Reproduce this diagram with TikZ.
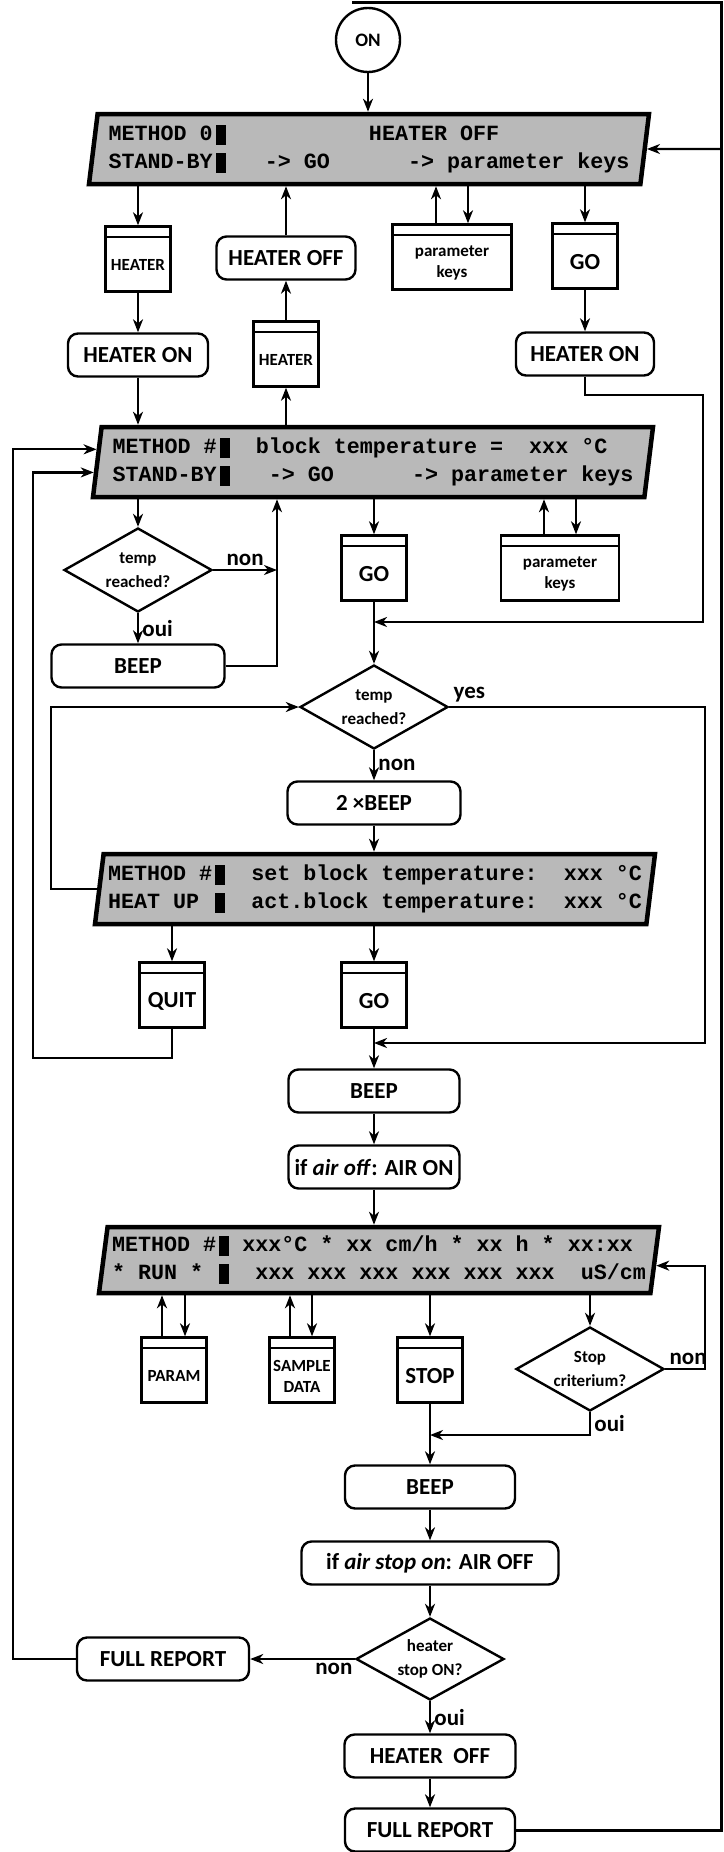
\documentclass[tikz,border=0pt]{standalone}
\usepackage{fontspec}
\setmainfont{Carlito}
\newfontfamily\lcdfont{Liberation Mono}
\usetikzlibrary{shapes.geometric, positioning, arrows.meta, calc}
\newcommand{\blk}{\makebox[0.6em][r]{\rule[-0.2em]{0.45em}{0.95em}}} % cursor block of the display
\newcommand{\low}[1]{\raisebox{-6pt}[\height][\depth]{#1}} % text below the key header
\tikzset{
	x=1pt, y=-1pt, % one unit is one pixel of the scan, y runs downwards
	->, % makes the connectors directed
	>={Stealth[length=13pt, width=10pt, inset=4pt]}, % arrow heads
	act/.style={draw, rounded corners=10pt, line width=2.4pt, minimum height=43pt, inner xsep=3pt, font=\bfseries\fontsize{23}{26}\selectfont}, % actions
	keybox/.style={draw, line width=2.4pt, minimum width=65pt, minimum height=65pt, inner sep=1pt, align=center, font=\bfseries\fontsize{17}{21}\selectfont,
		path picture={\draw[-, line width=2pt] ([yshift=-10pt]path picture bounding box.north west) -- ([yshift=-10pt]path picture bounding box.north east);}}, % keys, with a header strip
	bigkey/.style={keybox, font=\bfseries\fontsize{23}{26}\selectfont},
	query/.style={draw, diamond, aspect=1.75, inner sep=0pt, line width=2.4pt, minimum width=148pt, minimum height=84pt, align=center, font=\bfseries\fontsize{17}{24}\selectfont}, % tests
	lcd/.style={draw, trapezium, trapezium left angle=80, trapezium right angle=100, trapezium stretches body, line width=4.5pt, fill=gray!55, minimum width=560pt, minimum height=70pt, inner sep=0pt, align=left, font=\lcdfont\bfseries\fontsize{21.7}{28}\selectfont}, % screens
	lab/.style={font=\bfseries\fontsize{23}{26}\selectfont}, % oui / non
}

\begin{document}
\begin{tikzpicture}[line width=2.2pt]
	\useasboundingbox (0,0) rectangle (723,1852);
	% stand-by part
	\node[draw, circle, line width=2.4pt, minimum size=64pt, font=\bfseries\fontsize{19}{22}\selectfont] (on) at (368,40) {ON};
	\node[lcd] (d1) at (369,149) {METHOD~0\blk~~~~~~~~~~~HEATER~OFF\\STAND-BY\blk~~~->~GO~~~~~~->~parameter~keys};
	\node[keybox] (hk1) at (138,259) {\low{HEATER}};
	\node[act, minimum width=139pt] (hoff1) at (286,258) {HEATER OFF};
	\node[keybox, minimum width=119pt] (pk1) at (452,257) {\low{parameter}\\\low{keys}};
	\node[bigkey] (gk1) at (585,256) {\low{GO}};
	\node[act, minimum width=140pt] (hon1) at (138,355) {HEATER ON};
	\node[keybox] (hk2) at (286,354) {\low{HEATER}};
	\node[act, minimum width=138pt] (hon2) at (585,354) {HEATER ON};
	% heater on
	\node[lcd] (d2) at (373,462) {METHOD~\#\blk~~block~temperature~=~~xxx~°C\\STAND-BY\blk~~~->~GO~~~~~~->~parameter~keys};
	\node[query] (dq1) at (138,570) {temp\\reached?};
	\node[bigkey] (gk2) at (374,568) {\low{GO}};
	\node[keybox, minimum width=118pt] (pk2) at (560,568) {\low{parameter}\\\low{keys}};
	\node[act, minimum width=173pt] (beep1) at (138,666) {BEEP};
	% heat up
	\node[query] (dq2) at (374,707) {temp\\reached?};
	\node[act, minimum width=173pt] (beep2x) at (374,803) {2 ×BEEP};
	\node[lcd] (d3) at (375,889) {METHOD~\#\blk~~set~block~temperature:~~xxx~°C\\HEAT~UP~\blk~~act.block~temperature:~~xxx~°C};
	\node[bigkey] (qk) at (172,995) {\low{QUIT}};
	\node[bigkey] (gk3) at (374,995) {\low{GO}};
	% run
	\node[act, minimum width=171pt] (beep2) at (374,1091) {BEEP};
	\node[act, minimum width=171pt] (airon) at (374,1167) {if \textit{air off}: AIR ON};
	\node[lcd, minimum height=66pt] (d4) at (379,1260) {METHOD~\#\blk~xxx°C~*~xx~cm/h~*~xx~h~*~xx:xx\\*~RUN~*~\blk~~xxx~xxx~xxx~xxx~xxx~xxx~~uS/cm};
	\node[keybox] (prk) at (174,1370) {\low{PARAM}};
	\node[keybox] (sdk) at (302,1370) {\low{SAMPLE}\\\low{DATA}};
	\node[bigkey] (sk) at (430,1370) {\low{STOP}};
	\node[query] (dq3) at (590,1369) {Stop\\criterium?};
	% end of run
	\node[act, minimum width=170pt] (beep3) at (430,1487) {BEEP};
	\node[act, minimum width=257pt] (airoff) at (430,1563) {if \textit{air stop on}: AIR OFF};
	\node[query, minimum height=82pt] (dq4) at (430,1659) {heater\\stop ON?};
	\node[act, minimum width=172pt] (fr1) at (163,1659) {FULL REPORT};
	\node[act, minimum width=171pt] (hoff2) at (430,1756) {HEATER~~OFF};
	\node[act, minimum width=170pt] (fr2) at (430,1830) {FULL REPORT};

	% junctions of the long lines
	\coordinate (rtop) at (721,3);
	\coordinate (ttop) at (352,3);
	\coordinate (lx1) at (13,0);
	\coordinate (bj) at (277,0);
	\coordinate (gj) at (703,622);
	\coordinate (yj) at (705,1043);
	\coordinate (qj) at (33,1058);
	\coordinate (sj) at (430,1435);
	\coordinate (in1) at ($(d2.top left corner)!0.33!(d2.bottom left corner)$);
	\coordinate (in2) at ($(d2.top left corner)!0.64!(d2.bottom left corner)$);

	\draw (on) -- (on |- d1.north);
	\draw[-, line width=3pt] (fr2.east) -| (rtop) -- (ttop);
	\draw (rtop |- d1.east) -- ($(d1.top right corner)!0.5!(d1.bottom right corner)$);
	\draw (d1.south -| hk1) -- (hk1.north);
	\draw (hk1) -- (hon1);
	\draw (hon1) -- (hon1 |- d2.north);
	\draw (hk2 |- d2.north) -- (hk2.south);
	\draw (hk2) -- (hoff1);
	\draw (hoff1) -- (hoff1 |- d1.south);
	\draw ([xshift=-16pt]pk1.north) -- ([xshift=-16pt]pk1.north |- d1.south);
	\draw ([xshift=16pt]pk1.north |- d1.south) -- ([xshift=16pt]pk1.north);
	\draw (d1.south -| gk1) -- (gk1.north);
	\draw (gk1) -- (hon2);
	\draw (hon2.south) -- ++(0,18) -| (gj) -- (gj -| gk2);

	\draw (d2.south -| dq1) -- (dq1.north);
	\draw (dq1.east) -- node[lab, above]{non} (dq1.east -| bj);
	\draw (dq1.south) -- node[lab, right]{oui} (beep1.north);
	\draw (beep1.east) -- (beep1.east -| bj) -- (bj |- d2.south);
	\draw (d2.south -| gk2) -- (gk2.north);
	\draw ([xshift=-16pt]pk2.north) -- ([xshift=-16pt]pk2.north |- d2.south);
	\draw ([xshift=16pt]pk2.north |- d2.south) -- ([xshift=16pt]pk2.north);
	\draw (gk2) -- (dq2);

	\draw (dq2.east) node[lab, above right]{yes} -| (yj) -- (yj -| gk3);
	\draw (dq2.south) -- node[lab, right]{non} (beep2x.north);
	\draw (beep2x) -- (beep2x |- d3.north);
	\draw ($(d3.top left corner)!0.5!(d3.bottom left corner)$) -- ++(-46,0) |- (dq2.west);
	\draw (d3.south -| qk) -- (qk.north);
	\draw (d3.south -| gk3) -- (gk3.north);
	\draw (qk.south) |- (qj) |- (in2);
	\draw (fr1.west) -- (fr1.west -| lx1) |- (in1);

	\draw (gk3) -- (beep2);
	\draw (beep2) -- (airon);
	\draw (airon) -- (airon |- d4.north);
	\draw ([xshift=-12pt]prk.north) -- ([xshift=-12pt]prk.north |- d4.south);
	\draw ([xshift=11pt]prk.north |- d4.south) -- ([xshift=11pt]prk.north);
	\draw ([xshift=-12pt]sdk.north) -- ([xshift=-12pt]sdk.north |- d4.south);
	\draw ([xshift=10pt]sdk.north |- d4.south) -- ([xshift=10pt]sdk.north);
	\draw (d4.south -| sk) -- (sk.north);
	\draw (d4.south -| dq3) -- (dq3.north);
	\draw (dq3.east) node[lab, above right]{non} -- (dq3.east -| yj) |- ($(d4.top right corner)!0.58!(d4.bottom right corner)$);
	\draw (dq3.south) |- node[lab, right, pos=0.25]{oui} (sj);

	\draw (sk) -- (beep3);
	\draw (beep3) -- (airoff);
	\draw (airoff) -- (dq4);
	\draw (dq4.west) -- node[lab, below, pos=0.2]{non} (fr1.east);
	\draw (dq4.south) -- node[lab, right]{oui} (hoff2.north);
	\draw (hoff2) -- (fr2);
\end{tikzpicture}
\end{document}
